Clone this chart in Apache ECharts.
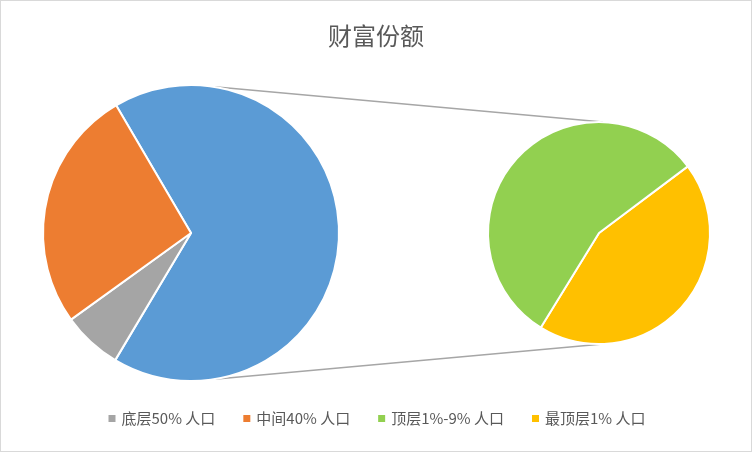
<!DOCTYPE html>
<html><head><meta charset="utf-8">
<script src="https://cdn.jsdelivr.net/npm/echarts@6/dist/echarts.min.js"></script>
<style>html,body{margin:0;padding:0;background:#fff}#c{width:750px;height:450px;border:1px solid #d9d9d9}</style>
</head><body><div id="c"></div>
<script>
// 财富份额：主饼 + 子饼
const mainNames = ['其他', '底层50% 人口', '中间40% 人口'];
const mainValues = [67, 6.5, 26.5];
const subNames = ['最顶层1% 人口', '顶层1%-9% 人口'];
const subValues = [29.5, 37.5];
const legendNames = ['底层50% 人口', '中间40% 人口', '顶层1%-9% 人口', '最顶层1% 人口'];

const font = 'Microsoft YaHei, Noto Sans CJK SC, sans-serif';
const colors = { '其他': '#5B9BD5', '底层50% 人口': '#A5A5A5', '中间40% 人口': '#ED7D31',
  '顶层1%-9% 人口': '#92D050', '最顶层1% 人口': '#FFC000' };
const mainC = [190, 232], mainR = 148, subC = [598, 232], subR = 111;

const chart = echarts.init(document.getElementById('c'));
const pt = (c, r, deg) => [c[0] + r * Math.cos(deg * Math.PI / 180), c[1] - r * Math.sin(deg * Math.PI / 180)];
const p1 = pt(mainC, mainR, 81), p2 = pt(subC, subR, 88);
const q1 = pt(mainC, mainR, -81), q2 = pt(subC, subR, -88);
const line = (a, b) => ({ type: 'line', shape: { x1: a[0], y1: a[1], x2: b[0], y2: b[1] }, style: { stroke: '#a6a6a6', lineWidth: 1.5 }, z: -1 });

chart.setOption({
  title: { text: '财富份额', left: 'center', top: 18, textStyle: { fontFamily: font, fontSize: 24, fontWeight: 'normal', color: '#595959' } },
  legend: { data: legendNames, bottom: 20, itemWidth: 9, itemHeight: 9, icon: 'rect', itemGap: 26,
    textStyle: { fontFamily: font, fontSize: 15, color: '#595959' } },
  graphic: [line(p1, p2), line(q1, q2)],
  series: [
    { type: 'pie', center: mainC, radius: mainR, startAngle: 120.4, label: { show: false }, silent: true,
      itemStyle: { borderColor: '#fff', borderWidth: 2 },
      data: mainNames.map((n, i) => ({ name: n, value: mainValues[i], itemStyle: { color: colors[n] } })) },
    { type: 'pie', center: subC, radius: subR, startAngle: 36.9, label: { show: false }, silent: true,
      itemStyle: { borderColor: '#fff', borderWidth: 2 },
      data: subNames.map((n, i) => ({ name: n, value: subValues[i], itemStyle: { color: colors[n] } })) }
  ]
});
</script></body></html>
